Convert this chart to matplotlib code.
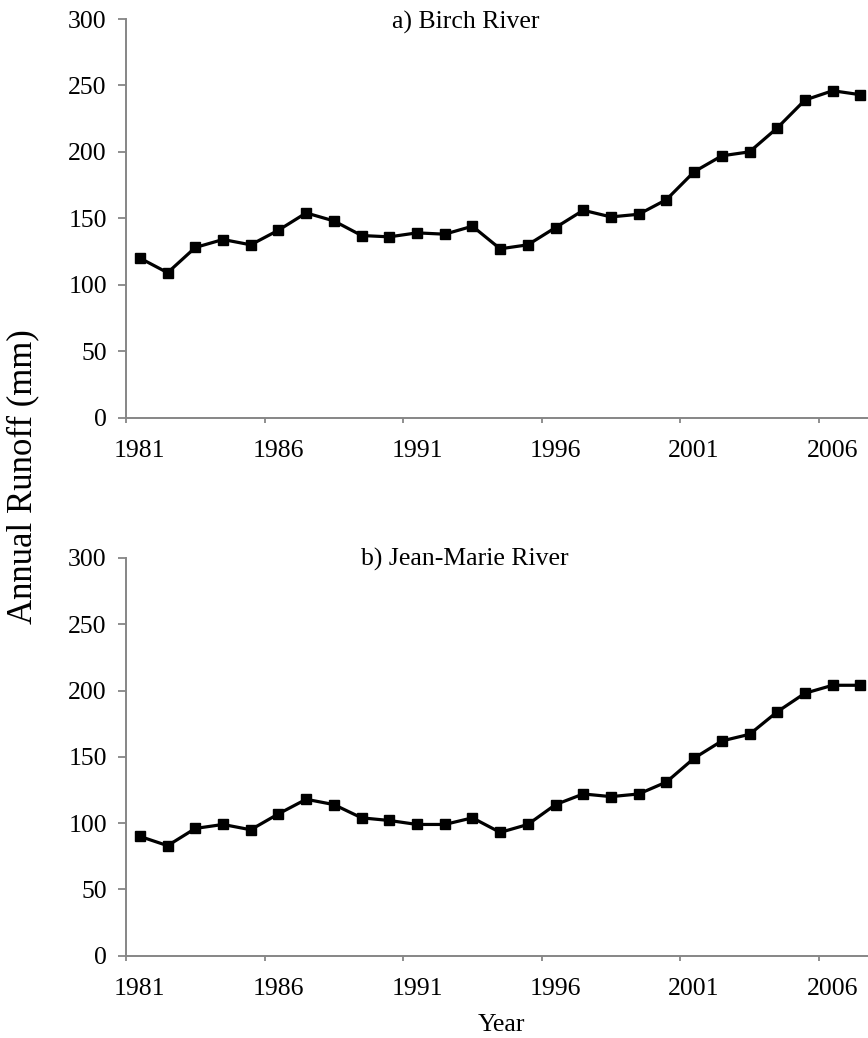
import matplotlib.pyplot as plt
import numpy as np

# annual runoff (mm)
years = list(range(1981, 2008))
birch = [120, 109, 128, 134, 130, 141, 154, 148, 137, 136, 139, 138, 144, 127,
         130, 143, 156, 151, 153, 164, 185, 197, 200, 218, 239, 246, 243]
jean_marie = [90, 83, 96, 99, 95, 107, 118, 114, 104, 102, 99, 99, 104, 93,
              99, 114, 122, 120, 122, 131, 149, 162, 167, 184, 198, 204, 204]
titles = ['a) Birch River', 'b) Jean-Marie River']

plt.rcParams['font.family'] = ['Liberation Serif', 'DejaVu Serif']
axis_grey = '#868686'
H = 1038.0

fig = plt.figure(figsize=(8.68, 10.38), dpi=100)
# category axis, right edge runs past the figure like in the original
ax_top = fig.add_axes([0.1452, 1 - 417.5 / H, 0.862, 398.5 / H])
ax_bot = fig.add_axes([0.1452, 1 - 955.7 / H, 0.862, 397.7 / H])

x = np.arange(len(years))
for ax, vals in zip([ax_top, ax_bot], [birch, jean_marie]):
    ax.plot(x, vals, color='black', lw=2.3, marker='s', ms=7.5,
            markerfacecolor='black', markeredgecolor='black', clip_on=False)
    ax.set_xlim(-0.5, len(years) - 0.5)
    ax.set_ylim(0, 300)
    ax.set_yticks(range(0, 301, 50))
    # tick marks between categories, labels every 5th year
    ax.set_xticks(np.arange(-0.5, len(years), 5))
    ax.set_xticklabels([])
    ax.set_xticks(x[::5], minor=True)
    ax.set_xticklabels([str(y) for y in years[::5]], minor=True)
    ax.tick_params(axis='x', which='major', direction='out', length=3.8,
                   width=1.3, color=axis_grey)
    ax.tick_params(axis='x', which='minor', length=0, labelsize=18.5, pad=16)
    ax.tick_params(axis='y', direction='out', length=5.8, width=1.3,
                   color=axis_grey, labelsize=18.5, pad=8)
    for s in ['top', 'right']:
        ax.spines[s].set_visible(False)
    for s in ['left', 'bottom']:
        ax.spines[s].set_color(axis_grey)
        ax.spines[s].set_linewidth(1.4)

fig.text(466 / 868, 1 - 29 / H, titles[0], ha='center', va='baseline',
         fontsize=18.5)
fig.text(465 / 868, 1 - 566 / H, titles[1], ha='center', va='baseline',
         fontsize=18.5)
fig.text(23 / 868, 1 - 477 / H, 'Annual Runoff (mm)', rotation=90,
         ha='center', va='center', fontsize=25)
fig.text(501 / 868, 1 - 1031 / H, 'Year', ha='center', va='baseline',
         fontsize=18.5)

fig.savefig('out.png', dpi=100)
